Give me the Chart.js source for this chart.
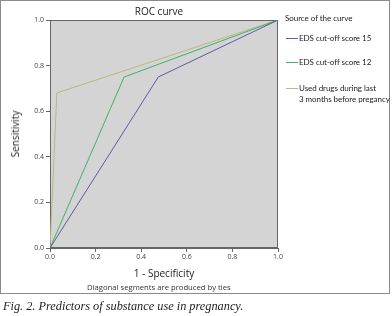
<!DOCTYPE html>
<html>
<head>
<meta charset="utf-8">
<script src="https://cdn.jsdelivr.net/npm/chart.js@4/dist/chart.umd.min.js"></script>
<style>
  body { margin: 0; background: #fff; width: 392px; height: 316px; position: relative; overflow: hidden; }
  #box { position: absolute; left: 0; top: 0; width: 388px; height: 292px; border: 1px solid #8a8a8a; }
  #wrap { position: absolute; left: 0; top: 0; width: 388px; height: 292px; }
  .t { position: absolute; font-family: "Open Sans", sans-serif; color: #222; white-space: nowrap; }
  .leg { font-family: Lato, sans-serif; font-size: 8px; letter-spacing: -0.05px; }
  .sw { position: absolute; width: 12px; height: 1px; }
</style>
</head>
<body>
<div id="box">
  <div id="wrap"><canvas id="roc-chart"></canvas></div>
  <div class="t" style="left:0;width:316px;top:3px;text-align:center;font-size:10px;">ROC curve</div>
  <div class="t" style="left:14px;top:133px;font-size:10px;transform:translate(-50%,-50%) rotate(-90deg);">Sensitivity</div>
  <div class="t" style="left:49px;width:228px;top:265px;text-align:center;font-size:10px;">1 - Specificity</div>
  <div class="t" style="left:86px;top:281px;font-size:7.7px;color:#333;">Diagonal segments are produced by ties</div>
  <div class="t leg" style="left:284px;top:12px;">Source of the curve</div>
  <div class="sw" style="left:285px;top:37px;background:#5b5ba8;"></div>
  <div class="t leg" style="left:298px;top:32px;">EDS cut-off score 15</div>
  <div class="sw" style="left:285px;top:61px;background:#3db36b;"></div>
  <div class="t leg" style="left:298px;top:56px;">EDS cut-off score 12</div>
  <div class="sw" style="left:285px;top:87px;background:#b9b97d;"></div>
  <div class="t leg" style="left:298px;top:82px;line-height:10.5px;">Used drugs during last<br>3 months before pregancy</div>
</div>
<div class="t" style="left:3px;top:299px;font-family:'Liberation Serif',serif;font-style:italic;font-size:12.3px;color:#222;">Fig. 2. Predictors of substance use in pregnancy.</div>
<script>
'use strict';

// 1 - specificity (x) and sensitivity (y) for each curve
var eds15X = [0, 0.475, 1];
var eds15Y = [0, 0.75, 1];
var eds12X = [0, 0.325, 1];
var eds12Y = [0, 0.75, 1];
var drugsX = [0, 0.03, 1];
var drugsY = [0, 0.68, 1];
var tickValues = [0, 0.2, 0.4, 0.6, 0.8, 1.0];

function toPoints(xs, ys) {
    return xs.map(function (x, i) { return { x: x, y: ys[i] }; });
}

// grey plot background and frame
var plotBg = {
    id: 'plotBg',
    beforeDraw: function (chart) {
        var a = chart.chartArea, c = chart.ctx;
        c.save();
        c.fillStyle = '#d4d4d4';
        c.fillRect(a.left, a.top, a.right - a.left, a.bottom - a.top);
        c.strokeStyle = '#666';
        c.lineWidth = 1;
        c.strokeRect(a.left + 0.5, a.top + 0.5, a.right - a.left - 1, a.bottom - a.top - 1);
        c.restore();
    }
};

var tickFont = { family: 'Open Sans', size: 7 };

var ctx = document.getElementById('roc-chart').getContext('2d');
var chart = new Chart(ctx, {
    type: 'scatter',
    data: {
        datasets: [{
            label: 'EDS cut-off score 15',
            data: toPoints(eds15X, eds15Y),
            borderColor: '#5b5ba8'
        }, {
            label: 'EDS cut-off score 12',
            data: toPoints(eds12X, eds12Y),
            borderColor: '#3db36b'
        }, {
            label: 'Used drugs during last 3 months before pregancy',
            data: toPoints(drugsX, drugsY),
            borderColor: '#b9b97d'
        }]
    },
    options: {
        responsive: true,
        maintainAspectRatio: false,
        animation: false,
        showLine: true,
        elements: {
            point: { radius: 0 },
            line: { borderWidth: 1, tension: 0 }
        },
        layout: { padding: { top: 19, right: 111, left: 0, bottom: 0 } },
        plugins: {
            legend: { display: false },
            tooltip: { enabled: false }
        },
        scales: {
            x: {
                type: 'linear',
                min: 0,
                max: 1,
                afterFit: function (s) { s.height = 45; },
                afterBuildTicks: function (s) { s.ticks = tickValues.map(function (v) { return { value: v }; }); },
                border: { color: '#666' },
                grid: { drawOnChartArea: false, tickLength: 4, color: '#666' },
                ticks: {
                    padding: 1,
                    color: '#444',
                    font: tickFont,
                    maxRotation: 0,
                    callback: function (v) { return Number(v).toFixed(1); }
                }
            },
            y: {
                type: 'linear',
                min: 0,
                max: 1,
                afterFit: function (s) { s.width = 49; },
                afterBuildTicks: function (s) { s.ticks = tickValues.map(function (v) { return { value: v }; }); },
                border: { color: '#666' },
                grid: { drawOnChartArea: false, tickLength: 4, color: '#666' },
                ticks: {
                    padding: 2,
                    color: '#444',
                    font: tickFont,
                    callback: function (v) { return Number(v).toFixed(1); }
                }
            }
        }
    },
    plugins: [plotBg]
});
</script>
</body>
</html>
